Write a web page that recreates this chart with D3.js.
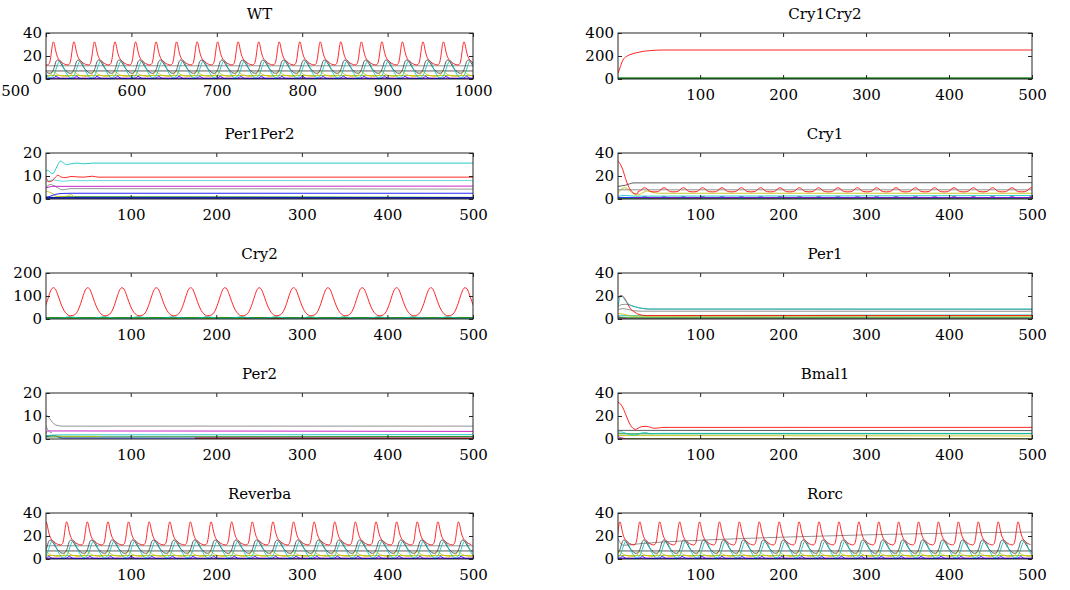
<!DOCTYPE html>
<html>
<head>
<meta charset="utf-8">
<script src="https://cdn.jsdelivr.net/npm/d3@7"></script>
<style>
  body { margin: 0; background: #fff; }
  text { font-family: "DejaVu Serif", serif; }
</style>
</head>
<body>
<div id="chart"></div>
<script>
// ---- tick labels ----
const wtXTicks = [500, 600, 700, 800, 900, 1000];
const runXTicks = [100, 200, 300, 400, 500];

// ---- oscillating runs (WT, Reverba, Rorc): peak times of the red trace and one cycle of each trace ----
const wtPeaks = [484.6, 508.6, 532.6, 556.7, 580.7, 604.8, 628.8, 652.8, 676.9, 700.9, 724.9, 749.0, 773.0,
  797.1, 821.1, 845.1, 869.2, 893.2, 917.3, 941.3, 965.3, 989.4];
const reverbaPeaks = [1, 25.1, 49.2, 73.3, 97.4, 121.5, 145.6, 169.7, 193.8, 217.9, 242, 266.1, 290.2,
  314.3, 338.4, 362.5, 386.6, 410.7, 434.8, 458.9, 483];
const rorcPeaks = [3.2, 27.2, 51.2, 75.2, 99.2, 123.2, 147.2, 171.2, 195.2, 219.2, 243.2, 267.2, 291.2,
  315.2, 339.2, 363.2, 387.2, 411.2, 435.2, 459.2, 483.2];

// [time offset from red peak, value]
const redCycle = [[-7, 12.2], [-5, 13.2], [-3.5, 17], [-2, 25], [-1, 30], [0, 32.3], [1, 31], [2.5, 25.5],
  [4, 21], [6, 17.5], [9, 15], [12, 13.4], [15, 12.5]];
const cyanCycle = [[-7, 2.5], [-4, 1.2], [-1, 2], [2, 6], [4, 10.5], [6, 14.5], [8, 16], [10, 14],
  [12, 10], [14, 6.5], [16, 4]];
const blackCycle = [[-7, 5.5], [-4, 5], [-1, 6.5], [1, 10], [3, 15], [5, 16.5], [7, 15.5], [10, 12],
  [13, 8.5], [16, 6.5]];
const yellowCycle = [[-7, 2.5], [-4, 3], [-2, 5], [0, 6.5], [2, 5.5], [5, 3.8], [9, 2.8], [13, 2.3], [16, 2.4]];
const blueCycle = [[-7, 0.4], [-2, 0.4], [1, 1.2], [3, 2.5], [5, 1.5], [8, 0.5], [16, 0.4]];

const rorcGray = [[1, 18], [4, 13.5], [8, 12], [30, 13.5], [60, 15], [100, 16.3], [150, 17.8], [200, 19],
  [250, 20], [300, 21], [350, 21.8], [400, 22.5], [450, 23], [500, 23.4]];

// ---- Cry1Cry2 ----
const c12Red = [[1, 50], [4, 110], [7, 165], [11, 195], [15, 210], [23, 228], [31, 240], [40, 247], [55, 252], [500, 252]];
const c12Green = [[1, 8], [500, 8]];
const c12Low = [[1, 2], [500, 2]];

// ---- Per1Per2 ----
const p12Cyan = [[1, 12], [3, 12.5], [6, 11.5], [9, 11], [13, 13.5], [18, 16.5], [21, 15.8], [25, 14.9], [30, 15.3],
  [38, 15.6], [45, 15.3], [55, 15.6], [500, 15.6]];
const p12Red = [[1, 9.5], [4, 7.5], [8, 7.8], [12, 9.5], [15, 10.3], [19, 9.5], [24, 9.3], [30, 9.8], [38, 9.6],
  [45, 9.5], [55, 9.9], [62, 9.5], [500, 9.5]];
const p12Cyan2 = [[1, 7.5], [10, 8.3], [20, 7.7], [30, 8], [500, 8]];
const p12Magenta = [[1, 4.8], [10, 5.5], [500, 5.6]];
const p12Gray = [[1, 5], [6, 6.3], [12, 5.5], [20, 4], [30, 4.5], [500, 4.3]];
const p12Blue = [[1, 0.5], [6, 1.2], [12, 2], [20, 2.4], [30, 2.5], [500, 2.5]];
const p12Yellow = [[1, 3.5], [8, 2.5], [15, 1], [25, 1.2], [30, 2], [35, 0.5], [40, 0.3]];
const p12Green = [[1, 1], [10, 0.7], [20, 1], [500, 0.7]];
const p12Bottom = [[1, 0.4], [500, 0.4]];

// ---- Cry1 ----
const cry1Peaks = [33.2, 56.5, 79.8, 103.1, 126.4, 149.7, 173, 196.3, 219.6, 242.9, 266.2, 289.5, 312.8,
  336.1, 359.4, 382.7, 406, 429.3, 452.6, 475.9, 499.2];
const cry1RedHead = [[1, 33], [4, 30], [7, 25], [10, 18], [13, 12], [16, 8], [19, 5.5], [22, 4.5], [25, 5]];
const cry1RedCycle = [[-11.6, 6.2], [-8, 6.4], [-5, 7.3], [-2.5, 9], [0, 9.8], [2.5, 9], [5, 7.3], [8, 6.4]];
const cry1MagentaCycle = [[-11.6, 1], [-4, 1], [-2, 2], [2, 2], [4, 1]];
const cry1Black = [[1, 11], [10, 12], [20, 14], [500, 14.2]];
const cry1Gray = [[1, 8], [500, 8]];
const cry1Yellow = [[1, 5], [5, 8.5], [9, 9.8], [13, 8.5], [17, 6], [21, 4], [25, 3.5], [31, 5.5], [36, 7],
  [42, 6], [50, 5], [500, 5]];
const cry1Cyan = [[1, 2.5], [10, 3], [20, 2.5], [500, 3]];
const cry1Green = [[1, 0.4], [500, 0.4]];

// ---- Cry2 ----
const cry2Peaks = [9.5, 49.6, 89.7, 129.8, 169.9, 210, 250.1, 290.2, 330.3, 370.4, 410.5, 450.6, 490.7];
const cry2RedCycle = [[-20, 14], [-16, 17], [-12, 32], [-8, 68], [-5, 103], [-2.5, 127], [0, 136], [2.5, 130],
  [5, 108], [8, 76], [11, 48], [14, 29], [17, 18]];
const cry2CyanCycle = [[-20, 9.5], [-15, 7], [-10, 4], [-5, 2], [0, 1.5], [5, 2], [10, 4], [15, 7.5], [18, 9.5]];
const cry2Green = [[1, 5], [500, 5]];
const cry2Yellow = [[1, 2], [232, 2]];
const cry2RedLow = [[232, 1.5], [500, 1.5]];
const cry2Blue = [[1, 0.5], [500, 0.5]];

// ---- Per1 ----
const per1Cyan = [[1, 11], [3, 18], [5, 20.5], [8, 18], [12, 14], [16, 12], [22, 10.5], [30, 9.3], [40, 8.7], [500, 8.7]];
const per1Red = [[1, 18], [4, 20.5], [8, 19], [12, 14], [16, 9], [21, 6], [26, 4], [35, 3], [500, 3]];
const per1Gray = [[1, 10.5], [5, 12.5], [10, 12.8], [16, 12], [22, 10.5], [30, 9.2], [38, 8.6], [500, 8.4]];
const per1Gray2 = [[1, 8], [6, 9], [12, 8.5], [20, 7.2], [30, 6.8], [500, 6.7]];
const per1Yellow = [[1, 5], [8, 4], [14, 3], [20, 2.5], [500, 2.6]];
const per1Cyan2 = [[1, 3], [500, 3.6]];
const per1Green = [[1, 1.5], [500, 1.5]];
const per1Magenta = [[1, 2], [6, 1], [12, 0.5]];
const per1Bottom = [[1, 0.3], [500, 0.3]];

// ---- Per2 ----
const per2Gray = [[1, 10.5], [4, 9.5], [7, 8], [10, 6.7], [14, 5.9], [20, 5.6], [500, 5.6]];
const per2Gray2 = [[1, 5.5], [4, 3.5], [8, 2.7]];
const per2Magenta = [[1, 2.5], [3, 3.5], [500, 3.3]];
const per2Cyan = [[1, 1.5], [20, 1.8], [500, 1.9]];
const per2Green = [[1, 0.9], [500, 1.1]];
const per2Yellow = [[1, 1.5], [20, 1.2], [65, 1.1]];
const per2Blue = [[1, 1], [10, 1.5], [20, 0.4], [500, 0.3]];
const per2RedLow = [[175, 0.3], [500, 0.3]];

// ---- Bmal1 ----
const bmalRed = [[1, 32], [4, 30.5], [7, 27], [10, 22], [13, 16.5], [16, 12], [19, 9.3], [22, 8.4], [25, 9.2],
  [29, 10.7], [35, 11], [40, 10.2], [45, 9.3], [50, 9.6], [55, 10.1], [500, 10.1]];
const bmalBlack = [[1, 7.5], [500, 7.3]];
const bmalCyan = [[1, 6], [5, 6.2], [10, 5], [15, 4], [20, 3.5], [25, 4], [30, 5.3], [35, 5.5], [40, 4.6], [50, 4.9], [500, 4.9]];
const bmalGreen = [[1, 4.5], [500, 4.6]];
const bmalYellow = [[1, 3], [500, 2.6]];
const bmalMagenta = [[1, 2], [5, 1], [10, 0.3]];
const bmalBottom = [[1, 0.4], [500, 0.4]];

// MATLAB default line colours
const C = {
  blue: '#0000ff', green: '#008000', red: '#ff0000', cyan: '#00bfbf',
  magenta: '#bf00bf', yellow: '#bfbf00', dark: '#404040', gray: '#808080'
};

function flat(v, x0, x1) { return [[x0, v], [x1, v]]; }

function oscRun(peaks, x0, x1, grayLine) {
  return [
    {color: C.blue, pts: flat(0.3, x0, x1)},
    {color: C.magenta, pts: flat(0.8, x0, x1)},
    {color: C.yellow, pts: flat(3, x0, x1)},
    {color: C.gray, pts: grayLine},
    {color: C.dark, pts: flat(7, x0, x1)},
    {color: C.blue, peaks: peaks, cycle: blueCycle},
    {color: C.yellow, peaks: peaks, cycle: yellowCycle},
    {color: C.dark, peaks: peaks, cycle: blackCycle},
    {color: C.cyan, peaks: peaks, cycle: cyanCycle},
    {color: C.red, peaks: peaks, cycle: redCycle}
  ];
}

const panels = [
  {title: 'WT', col: 0, row: 0, xDomain: [500, 1000], xTicks: wtXTicks, yMax: 40, yTicks: [0, 20, 40],
    series: oscRun(wtPeaks, 500, 1000, flat(11.5, 500, 1000))},
  {title: 'Cry1Cry2', col: 1, row: 0, xDomain: [1, 500], xTicks: runXTicks, yMax: 400, yTicks: [0, 200, 400],
    series: [
      {color: C.blue, pts: c12Low}, {color: C.red, pts: c12Red}, {color: C.green, pts: c12Green, width: 1.6}
    ]},
  {title: 'Per1Per2', col: 0, row: 1, xDomain: [1, 500], xTicks: runXTicks, yMax: 20, yTicks: [0, 10, 20],
    series: [
      {color: C.green, pts: p12Green}, {color: C.yellow, pts: p12Yellow}, {color: C.blue, pts: p12Blue},
      {color: C.gray, pts: p12Gray}, {color: C.magenta, pts: p12Magenta}, {color: C.cyan, pts: p12Cyan2, opacity: 0.6},
      {color: C.red, pts: p12Red}, {color: C.cyan, pts: p12Cyan}, {color: '#0000b0', pts: p12Bottom, width: 2}
    ]},
  {title: 'Cry1', col: 1, row: 1, xDomain: [1, 500], xTicks: runXTicks, yMax: 40, yTicks: [0, 20, 40],
    series: [
      {color: C.green, pts: cry1Green, width: 1.5}, {color: C.blue, pts: flat(1.2, 1, 500)},
      {color: C.magenta, peaks: cry1Peaks, cycle: cry1MagentaCycle}, {color: C.cyan, pts: cry1Cyan},
      {color: C.yellow, pts: cry1Yellow}, {color: C.gray, pts: cry1Gray}, {color: C.dark, pts: cry1Black},
      {color: C.red, head: cry1RedHead, peaks: cry1Peaks, cycle: cry1RedCycle}
    ]},
  {title: 'Cry2', col: 0, row: 2, xDomain: [1, 500], xTicks: runXTicks, yMax: 200, yTicks: [0, 100, 200],
    series: [
      {color: C.blue, pts: cry2Blue}, {color: C.yellow, pts: cry2Yellow, width: 1.5}, {color: C.red, pts: cry2RedLow, width: 2},
      {color: C.green, pts: cry2Green, width: 1.5}, {color: C.cyan, peaks: cry2Peaks, cycle: cry2CyanCycle},
      {color: C.red, peaks: cry2Peaks, cycle: cry2RedCycle}
    ]},
  {title: 'Per1', col: 1, row: 2, xDomain: [1, 500], xTicks: runXTicks, yMax: 40, yTicks: [0, 20, 40],
    series: [
      {color: C.dark, pts: per1Bottom}, {color: C.magenta, pts: per1Magenta}, {color: C.green, pts: per1Green},
      {color: C.cyan, pts: per1Cyan2, opacity: 0.7}, {color: C.yellow, pts: per1Yellow}, {color: C.gray, pts: per1Gray2},
      {color: C.gray, pts: per1Gray}, {color: C.red, pts: per1Red}, {color: C.cyan, pts: per1Cyan}
    ]},
  {title: 'Per2', col: 0, row: 3, xDomain: [1, 500], xTicks: runXTicks, yMax: 20, yTicks: [0, 10, 20],
    series: [
      {color: C.blue, pts: per2Blue}, {color: C.green, pts: per2Green}, {color: C.yellow, pts: per2Yellow},
      {color: '#b00000', pts: per2RedLow, width: 1.5}, {color: C.cyan, pts: per2Cyan}, {color: C.magenta, pts: per2Magenta},
      {color: C.gray, pts: per2Gray2}, {color: C.gray, pts: per2Gray}
    ]},
  {title: 'Bmal1', col: 1, row: 3, xDomain: [1, 500], xTicks: runXTicks, yMax: 40, yTicks: [0, 20, 40],
    series: [
      {color: '#606000', pts: bmalBottom}, {color: C.magenta, pts: bmalMagenta}, {color: C.yellow, pts: bmalYellow},
      {color: C.green, pts: bmalGreen}, {color: C.cyan, pts: bmalCyan}, {color: C.dark, pts: bmalBlack},
      {color: C.red, pts: bmalRed}
    ]},
  {title: 'Reverba', col: 0, row: 4, xDomain: [1, 500], xTicks: runXTicks, yMax: 40, yTicks: [0, 20, 40],
    series: oscRun(reverbaPeaks, 1, 500, flat(11.5, 1, 500))},
  {title: 'Rorc', col: 1, row: 4, xDomain: [1, 500], xTicks: runXTicks, yMax: 40, yTicks: [0, 20, 40],
    series: oscRun(rorcPeaks, 1, 500, rorcGray)}
];

// assemble a trace from its explicit points, or from a leading transient plus repeated read cycles
function tracePoints(s) {
  const pts = s.head ? s.head.slice() : (s.pts ? s.pts.slice() : []);
  if (s.cycle) {
    const lastHead = pts.length ? pts[pts.length - 1][0] : -Infinity;
    s.peaks.forEach(p => s.cycle.forEach(([dt, v]) => {
      if (p + dt > lastHead) pts.push([p + dt, v]);
    }));
    pts.sort((a, b) => a[0] - b[0]);
  }
  return pts;
}

const width = 1070, height = 590;
const colX = [[46, 473], [618, 1032]];
const rowTop = 33, rowStep = 120, plotH = 46;

const svg = d3.select('#chart').append('svg')
  .attr('width', width)
  .attr('height', height)
  .attr('viewBox', [0, 0, width, height]);

panels.forEach((p, i) => {
  const [x0, x1] = colX[p.col];
  const top = rowTop + p.row * rowStep;
  const bottom = top + plotH;

  const x = d3.scaleLinear().domain(p.xDomain).range([x0, x1]);
  const y = d3.scaleLinear().domain([0, p.yMax]).range([bottom, top]);

  const g = svg.append('g');

  svg.append('clipPath').attr('id', 'clip' + i)
    .append('rect').attr('x', x0).attr('y', top).attr('width', x1 - x0).attr('height', plotH);

  const line = d3.line()
    .x(d => x(d[0]))
    .y(d => y(d[1]))
    .curve(d3.curveMonotoneX);

  const lines = g.append('g').attr('clip-path', `url(#clip${i})`);
  p.series.forEach(s => {
    lines.append('path')
      .attr('d', line(tracePoints(s)))
      .attr('fill', 'none')
      .attr('stroke', s.color)
      .attr('stroke-width', s.width || 1)
      .attr('stroke-opacity', s.opacity || 0.85);
  });

  // axes with inward ticks on all four sides, MATLAB style
  const firstRow = p.row === 0 && p.col === 0;
  const labelPad = firstRow ? 6 : 10;
  const xb = g.append('g').attr('transform', `translate(0,${bottom})`)
    .call(d3.axisBottom(x).tickValues(p.xTicks).tickFormat(d3.format('d'))
      .tickSizeInner(-4).tickSizeOuter(0).tickPadding(labelPad));
  const xt = g.append('g').attr('transform', `translate(0,${top})`)
    .call(d3.axisTop(x).tickValues(p.xTicks).tickSizeInner(-4).tickSizeOuter(0).tickFormat(''));
  const yl = g.append('g').attr('transform', `translate(${x0},0)`)
    .call(d3.axisLeft(y).tickValues(p.yTicks).tickSizeInner(-4).tickSizeOuter(0).tickPadding(4));
  const yr = g.append('g').attr('transform', `translate(${x1},0)`)
    .call(d3.axisRight(y).tickValues(p.yTicks).tickSizeInner(-4).tickSizeOuter(0).tickFormat(''));

  [xb, xt, yl, yr].forEach(a => {
    a.select('.domain').remove();
    a.selectAll('line').attr('stroke', '#262626');
    a.selectAll('text').attr('font-size', 15).attr('font-family', '"DejaVu Serif", serif').attr('fill', '#000');
  });

  // in the WT panel the leftmost time label sits left of the y labels
  if (firstRow) {
    xb.selectAll('.tick text').filter(d => d === p.xDomain[0]).attr('x', -31);
  }

  g.append('rect')
    .attr('x', x0).attr('y', top)
    .attr('width', x1 - x0).attr('height', plotH)
    .attr('fill', 'none').attr('stroke', '#262626').attr('stroke-width', 1);

  g.append('text')
    .attr('x', (x0 + x1) / 2)
    .attr('y', top - 14)
    .attr('text-anchor', 'middle')
    .attr('font-size', 15)
    .text(p.title);
});
</script>
</body>
</html>
